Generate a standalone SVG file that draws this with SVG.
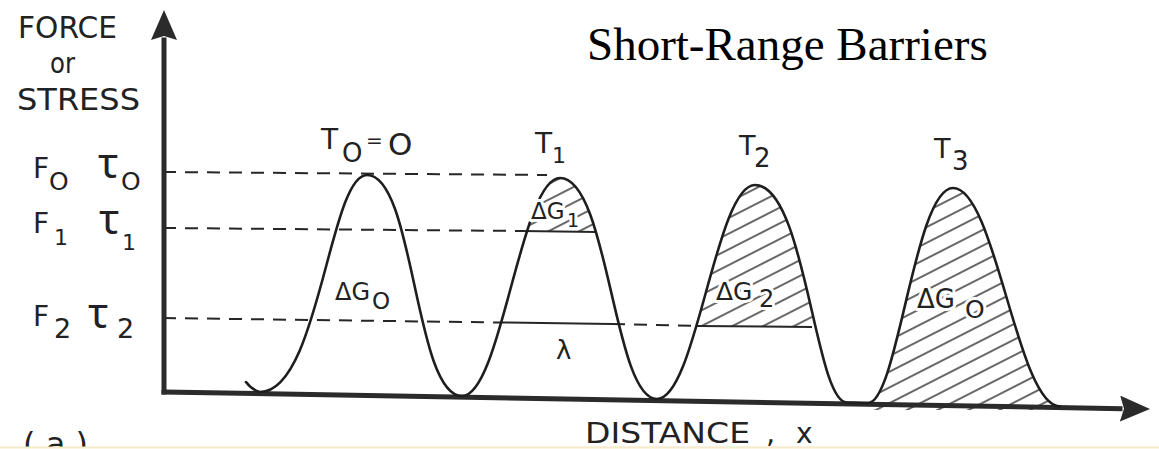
<svg xmlns="http://www.w3.org/2000/svg" width="1159" height="449" viewBox="0 0 1159 449">
<style>
.h{font-family:"DejaVu Sans",sans-serif;fill:#222}
.tau{font-family:"Noto Sans","DejaVu Sans",sans-serif;fill:#222}
.w{paint-order:stroke;stroke:#fff;stroke-width:6;stroke-linejoin:round}
.axis{stroke:#2b2b2b;stroke-width:5;fill:none;stroke-linecap:square}
.dash{stroke:#262626;stroke-width:2;stroke-dasharray:13 9;fill:none}
.solid{stroke:#262626;stroke-width:2;fill:none}
.curve{stroke:#1e1e1e;stroke-width:2.6;fill:none;stroke-linecap:round;stroke-linejoin:round}
</style>
<defs>
<marker id="arr" markerUnits="userSpaceOnUse" markerWidth="30" markerHeight="26" viewBox="0 0 30 26" refX="0" refY="13" orient="auto">
<path d="M0,0 L30,13 L0,26 L4,13 Z" fill="#2b2b2b"/>
</marker>
<pattern id="hatch" patternUnits="userSpaceOnUse" width="20" height="14" patternTransform="rotate(-27)">
<line x1="0" y1="7" x2="20" y2="7" stroke="#262626" stroke-width="1.4"/>
</pattern>
<clipPath id="c1"><path d="M462,396 C501.2,396 520.8,178 560,178 C608.5,178 613.4,399 657,399 Z"/></clipPath>
<clipPath id="c2"><path d="M657,399 C696.2,399 715.8,185 755,185 C805.6,185 814.8,402.5 847,402.5 Z"/></clipPath>
<clipPath id="c3"><path d="M868,403 C897.75,403 914.75,188 953,188 C995.8,188 1017.2,406.5 1060,406.5 L1060,410 L868,410 Z"/></clipPath>
</defs>
<rect width="1159" height="449" fill="#fff"/>

<g id="hatching">
<rect x="515" y="170" width="90" height="61" fill="url(#hatch)" clip-path="url(#c1)"/>
<rect x="690" y="180" width="130" height="147" fill="url(#hatch)" clip-path="url(#c2)"/>
<rect x="860" y="180" width="205" height="230" fill="url(#hatch)" clip-path="url(#c3)"/>
</g>

<g id="levels">
<line class="dash" x1="163" y1="172" x2="547" y2="175"/>
<line class="dash" x1="163" y1="228" x2="522" y2="231"/>
<line class="solid" x1="522" y1="231" x2="597" y2="232"/>
<line class="dash" x1="163" y1="318" x2="502" y2="322.5"/>
<line class="solid" x1="502" y1="322.5" x2="612" y2="324"/>
<line class="dash" x1="612" y1="324" x2="697" y2="326"/>
<line class="solid" x1="697" y1="326" x2="812" y2="327"/>
</g>

<g id="axes">
<line class="axis" x1="164" y1="392" x2="164" y2="40" marker-end="url(#arr)"/>
<line class="axis" x1="164" y1="392" x2="1120" y2="408.6" marker-end="url(#arr)"/>
</g>

<g id="curve">
<path class="curve" d="M246,382 Q252,390 260,392 C318.9,392 329.5,175 367,175 C414.5,175 414.5,396 462,396 C501.2,396 520.8,178 560,178 C608.5,178 613.4,399 657,399 C696.2,399 715.8,185 755,185 C805.6,185 814.8,402.5 847,402.5 L868,403 C897.75,403 914.75,188 953,188 C995.8,188 1017.2,406.5 1060,406.5"/>
</g>

<g id="y-labels">
<text class="h" x="18" y="38" font-size="30" textLength="99" lengthAdjust="spacingAndGlyphs">FORCE</text>
<text class="h" x="50" y="73" font-size="28" textLength="25" lengthAdjust="spacingAndGlyphs">or</text>
<text class="h" x="17" y="110" font-size="30" textLength="123" lengthAdjust="spacingAndGlyphs">STRESS</text>

<text class="h" x="33" y="178" font-size="28">F</text>
<text class="h" x="49" y="190" font-size="25">O</text>
<text class="tau" x="98" y="178" font-size="42">τ</text>
<text class="h" x="121" y="190" font-size="25">O</text>

<text class="h" x="33" y="233" font-size="28">F</text>
<text class="h" x="54" y="245" font-size="22">1</text>
<text class="tau" x="99" y="234" font-size="42">τ</text>
<text class="h" x="122" y="250" font-size="22">1</text>

<text class="h" x="33" y="326" font-size="28">F</text>
<text class="h" x="54" y="338" font-size="27">2</text>
<text class="tau" x="88" y="328" font-size="42">τ</text>
<text class="h" x="117" y="338" font-size="27">2</text>
</g>

<g id="peak-labels">
<text class="h" x="321" y="149" font-size="28">T</text>
<text class="h" x="342" y="162" font-size="26">O</text>
<text class="h" x="366" y="147" font-size="20">=</text>
<text class="h" x="388" y="155" font-size="31">O</text>

<text class="h" x="535" y="153" font-size="28">T</text>
<text class="h" x="552" y="163" font-size="22">1</text>

<text class="h" x="739" y="155" font-size="27">T</text>
<text class="h" x="754" y="167" font-size="26">2</text>

<text class="h" x="934" y="158" font-size="27">T</text>
<text class="h" x="952" y="170" font-size="26">3</text>
</g>

<g id="area-labels">
<text class="h" x="335" y="300" font-size="24">ΔG</text>
<text class="h" x="372" y="309" font-size="23">O</text>

<text class="h w" x="531" y="219" font-size="23">ΔG</text>
<text class="h w" x="567" y="227" font-size="19">1</text>

<text class="h" x="556" y="359" font-size="26">λ</text>

<text class="h w" x="716" y="300" font-size="25">ΔG</text>
<text class="h w" x="759" y="307" font-size="24">2</text>

<text class="h w" x="917" y="308" font-size="26">ΔG</text>
<text class="h w" x="965" y="318" font-size="25">O</text>
</g>

<g id="x-label">
<text class="h" x="585" y="443" font-size="29" textLength="165" lengthAdjust="spacingAndGlyphs">DISTANCE</text>
<text class="h" x="766" y="443" font-size="29">,</text>
<text class="h" x="796" y="443" font-size="28">x</text>
</g>

<g id="title">
<text x="587" y="60" font-family="Liberation Serif, serif" font-size="47" fill="#000">Short-Range Barriers</text>
</g>

<g id="panel">
<text class="h" x="23" y="455" font-size="32">( a )</text>
<rect x="0" y="447" width="1159" height="2" fill="#fbf5e2"/>
<line x1="0" y1="447" x2="1159" y2="447" stroke="#f1e2b5" stroke-width="1.2"/>
</g>
</svg>
